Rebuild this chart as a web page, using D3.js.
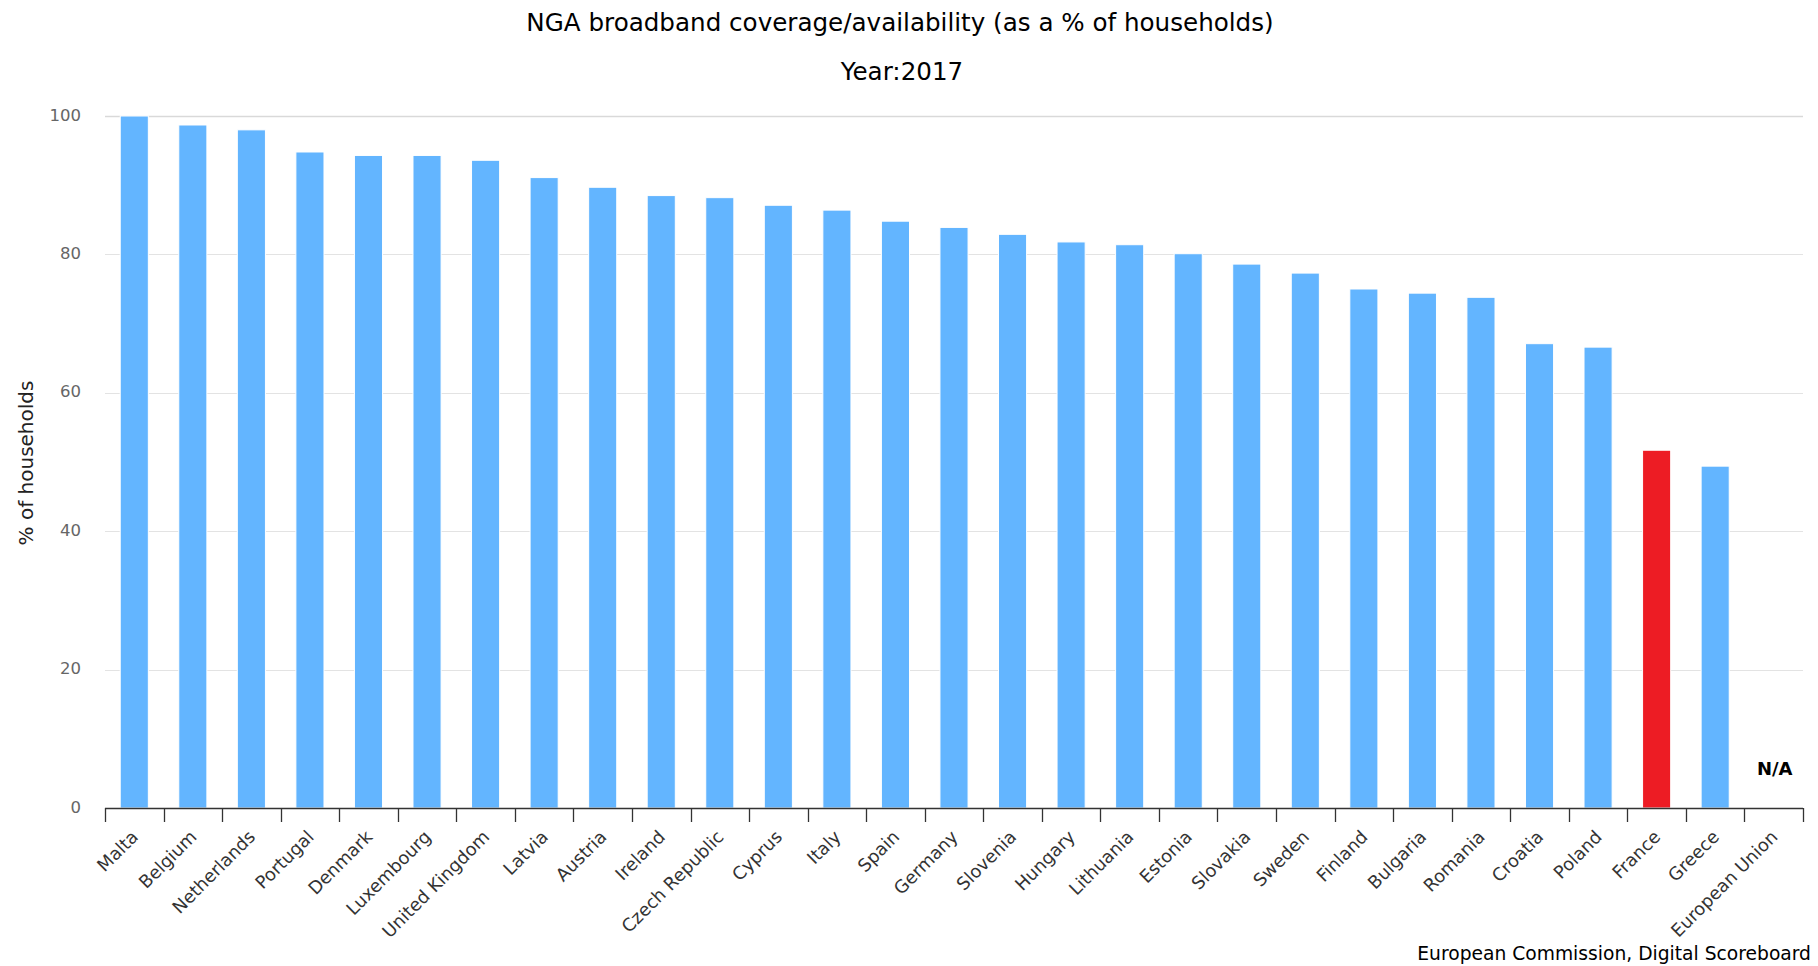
<!DOCTYPE html>
<html>
<head>
<meta charset="utf-8">
<script src="https://cdn.jsdelivr.net/npm/d3@7/dist/d3.min.js"></script>
<style>
  html, body { margin: 0; padding: 0; background: #ffffff; }
  svg { display: block; }
</style>
</head>
<body>
<svg id="chart" width="1818" height="966"></svg>
<script>
const categories = ["Malta","Belgium","Netherlands","Portugal","Denmark","Luxembourg","United Kingdom","Latvia","Austria","Ireland","Czech Republic","Cyprus","Italy","Spain","Germany","Slovenia","Hungary","Lithuania","Estonia","Slovakia","Sweden","Finland","Bulgaria","Romania","Croatia","Poland","France","Greece","European Union"];
const values = [100, 98.7, 98.0, 94.8, 94.3, 94.3, 93.6, 91.1, 89.7, 88.5, 88.2, 87.1, 86.4, 84.8, 83.9, 82.9, 81.8, 81.4, 80.1, 78.6, 77.3, 75.0, 74.4, 73.8, 67.1, 66.6, 51.7, 49.4, null];
const highlighted = ["France"];
const yTicks = [0, 20, 40, 60, 80, 100];
const titleText = "NGA broadband coverage/availability (as a % of households)";
const subtitleText = "Year:2017";
const yAxisTitle = "% of households";
const creditsText = "European Commission, Digital Scoreboard";
const naText = "N/A";

const W = 1818, H = 966;
const plot = { left: 105, right: 1803, top: 116, bottom: 808 };
const svg = d3.select("#chart");
const textFont = "'DejaVu Sans', Verdana, sans-serif";

const x = d3.scaleBand().domain(categories).range([plot.left, plot.right]).paddingInner(0).paddingOuter(0);
const y = d3.scaleLinear().domain([0, 100]).range([plot.bottom, plot.top]);
const step = x.step();
const barW = step * 0.48;

// gridlines
const grid = svg.append("g");
grid.selectAll("line").data(yTicks.filter(d => d > 0)).join("line")
  .attr("x1", plot.left).attr("x2", plot.right)
  .attr("y1", d => Math.round(y(d)) + 0.5).attr("y2", d => Math.round(y(d)) + 0.5)
  .attr("stroke", d => d === 100 ? "#d9d9d9" : "#e3e3e3").attr("stroke-width", d => d === 100 ? 1.5 : 1);

// y axis labels
const yAxis = d3.axisLeft(y).tickValues(yTicks).tickSize(0).tickPadding(0).tickFormat(d3.format("d"));
const gy = svg.append("g").attr("transform", `translate(${plot.left - 24},0)`).call(yAxis);
gy.select(".domain").remove();
gy.selectAll("text")
  .attr("font-family", textFont)
  .attr("font-size", 16.5).attr("fill", "#666666").attr("dy", "0.25em");

// bars
const data = categories.map((c, i) => ({ c, v: values[i] }));
svg.append("g").selectAll("rect").data(data.filter(d => d.v != null)).join("rect")
  .attr("x", d => x(d.c) + (step - barW) / 2)
  .attr("width", barW)
  .attr("y", d => y(d.v))
  .attr("height", d => y(0) - y(d.v))
  .attr("fill", d => highlighted.includes(d.c) ? "#ed1c24" : "#63b5ff")
  .attr("stroke", "#ffffff").attr("stroke-width", 1);

// N/A label
svg.append("g").selectAll("text").data(data.filter(d => d.v == null)).join("text")
  .attr("x", d => x(d.c) + step / 2 + 1)
  .attr("y", y(0) - 33)
  .attr("text-anchor", "middle")
  .attr("font-family", textFont)
  .attr("font-weight", "bold").attr("font-size", 18).attr("fill", "#000000")
  .text(naText);

// x axis
const xAxis = d3.axisBottom(x).tickSize(0).tickFormat(d => d);
const gx = svg.append("g").attr("transform", `translate(0,${plot.bottom})`).call(xAxis);
gx.select(".domain").remove();
gx.append("line").attr("x1", plot.left).attr("x2", plot.right).attr("y1", 0.5).attr("y2", 0.5)
  .attr("stroke", "#333333").attr("stroke-width", 1.3);
const bounds = categories.map(c => x(c)).concat([plot.right]);
gx.selectAll("line.tickmark").data(bounds).join("line").attr("class", "tickmark")
  .attr("x1", d => Math.round(d) + 0.5).attr("x2", d => Math.round(d) + 0.5)
  .attr("y1", 0).attr("y2", 14)
  .attr("stroke", "#333333").attr("stroke-width", 1.3);
gx.selectAll(".tick text")
  .attr("font-family", textFont).attr("font-size", 17.8).attr("fill", "#333333")
  .attr("text-anchor", "end")
  .attr("transform", "translate(5,30) rotate(-45)")
  .attr("dy", 0).attr("y", 0).attr("x", 0);

// y axis title
svg.append("text")
  .attr("transform", `translate(33,${(plot.top + plot.bottom) / 2 + 1}) rotate(-90)`)
  .attr("text-anchor", "middle")
  .attr("font-family", textFont).attr("font-size", 20).attr("fill", "#222222")
  .text(yAxisTitle);

// titles
svg.append("text").attr("x", 900).attr("y", 31).attr("text-anchor", "middle")
  .attr("font-family", textFont).attr("font-size", 24.6).attr("fill", "#000000")
  .text(titleText);
svg.append("text").attr("x", 902).attr("y", 80).attr("text-anchor", "middle")
  .attr("font-family", textFont).attr("font-size", 24.6).attr("fill", "#000000")
  .text(subtitleText);

// credits
svg.append("text").attr("x", 1811).attr("y", 960).attr("text-anchor", "end")
  .attr("font-family", textFont).attr("font-size", 18.7).attr("fill", "#000000")
  .text(creditsText);
</script>
</body>
</html>
